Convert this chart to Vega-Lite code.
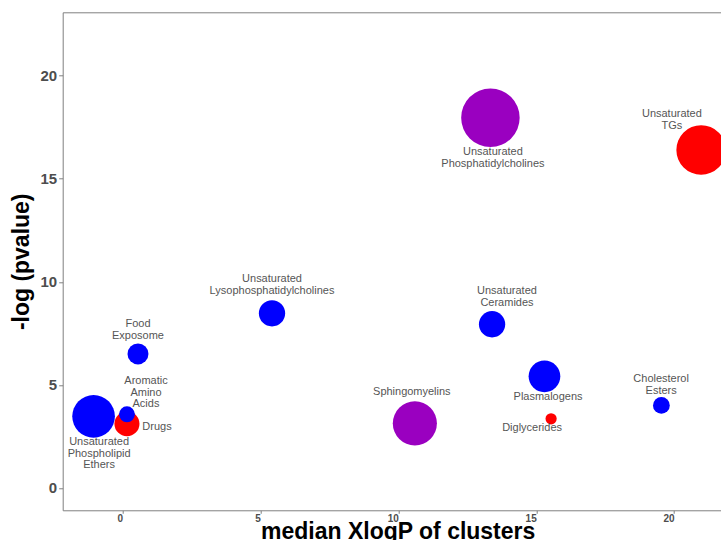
{
  "$schema": "https://vega.github.io/schema/vega-lite/v6.json",
  "width": 658,
  "height": 498,
  "autosize": {"type": "none"},
  "padding": {"left": 62.7, "top": 12.3, "right": 0, "bottom": 30},
  "background": "white",
  "config": {
    "font": "Liberation Sans",
    "view": {"stroke": null},
    "axis": {"grid": false, "domainColor": "#7f7f7f", "tickColor": "#7f7f7f", "tickSize": 4, "labelColor": "#4d4d4d", "labelFontWeight": "bold", "titleColor": "#000000", "titleFontWeight": "bold", "titleFontSize": 23}
  },
  "data": {
    "values": [
      {"cluster": "Unsaturated Phospholipid Ethers", "label": "Unsaturated\nPhospholipid\nEthers", "xlogp": -1.05, "nlogp": 3.47, "n": 58, "trend": "down", "lx": -0.85, "ly": 2.21},
      {"cluster": "Drugs", "label": "Drugs", "xlogp": 0.16, "nlogp": 3.11, "n": 20, "trend": "up", "lx": 1.25, "ly": 2.94},
      {"cluster": "Aromatic Amino Acids", "label": "Aromatic\nAmino\nAcids", "xlogp": 0.16, "nlogp": 3.57, "n": 8, "trend": "down", "lx": 0.85, "ly": 5.17},
      {"cluster": "Food Exposome", "label": "Food\nExposome", "xlogp": 0.56, "nlogp": 6.5, "n": 14, "trend": "down", "lx": 0.56, "ly": 7.94},
      {"cluster": "Unsaturated Lysophosphatidylcholines", "label": "Unsaturated\nLysophosphatidylcholines", "xlogp": 5.42, "nlogp": 8.47, "n": 22, "trend": "down", "lx": 5.42, "ly": 10.12},
      {"cluster": "Sphingomyelins", "label": "Sphingomyelins", "xlogp": 10.6, "nlogp": 3.13, "n": 62, "trend": "mixed", "lx": 10.49, "ly": 4.67},
      {"cluster": "Unsaturated Phosphatidylcholines", "label": "Unsaturated\nPhosphatidylcholines", "xlogp": 13.34, "nlogp": 17.96, "n": 109, "trend": "mixed", "lx": 13.43, "ly": 16.29},
      {"cluster": "Unsaturated TGs", "label": "Unsaturated\nTGs", "xlogp": 20.98, "nlogp": 16.4, "n": 78, "trend": "up", "lx": 19.92, "ly": 18.13},
      {"cluster": "Unsaturated Ceramides", "label": "Unsaturated\nCeramides", "xlogp": 13.4, "nlogp": 7.94, "n": 22, "trend": "down", "lx": 13.94, "ly": 9.54},
      {"cluster": "Plasmalogens", "label": "Plasmalogens", "xlogp": 15.3, "nlogp": 5.41, "n": 32, "trend": "down", "lx": 15.43, "ly": 4.39},
      {"cluster": "Diglycerides", "label": "Diglycerides", "xlogp": 15.54, "nlogp": 3.35, "n": 4, "trend": "up", "lx": 14.85, "ly": 2.89},
      {"cluster": "Cholesterol Esters", "label": "Cholesterol\nEsters", "xlogp": 19.54, "nlogp": 4.0, "n": 9, "trend": "down", "lx": 19.53, "ly": 5.27}
    ]
  },
  "layer": [
    {
      "mark": {"type": "circle", "opacity": 1, "stroke": null},
      "encoding": {
        "x": {"field": "xlogp", "type": "quantitative", "scale": {"domain": [-2.17, 21.69], "nice": false, "zero": false},
          "axis": {"orient": "bottom", "values": [0, 5, 10, 15, 20], "title": "median XlogP of clusters", "labelFontSize": 10, "labelPadding": 0, "tickSize": 3, "labelAlign": "right", "labelOffset": 0, "titleX": 335, "titleY": 28, "titleBaseline": "alphabetic", "titleAnchor": "middle"}},
        "y": {"field": "nlogp", "type": "quantitative", "scale": {"domain": [-1.09, 23.08], "nice": false, "zero": false},
          "axis": {"values": [0, 5, 10, 15, 20], "title": "-log (pvalue)", "labelFontSize": 15, "labelPadding": 2, "titlePadding": 7}},
        "size": {"field": "n", "type": "quantitative", "scale": {"type": "linear", "zero": true, "domain": [0, 109], "range": [0, 3421]}, "legend": null},
        "color": {"field": "trend", "type": "nominal", "scale": {"domain": ["down", "up", "mixed"], "range": ["#0000ff", "#ff0000", "#9a00c0"]}, "legend": null},
        "order": {"value": 0}
      }
    },
    {
      "mark": {"type": "text", "fontSize": 11, "color": "#555555", "lineBreak": "\n", "lineHeight": 11.5, "align": "center", "baseline": "middle"},
      "encoding": {
        "x": {"field": "lx", "type": "quantitative", "axis": {"orient": "top", "labels": false, "ticks": false, "title": null, "domain": true}},
        "y": {"field": "ly", "type": "quantitative"},
        "text": {"field": "label"}
      }
    }
  ]
}
